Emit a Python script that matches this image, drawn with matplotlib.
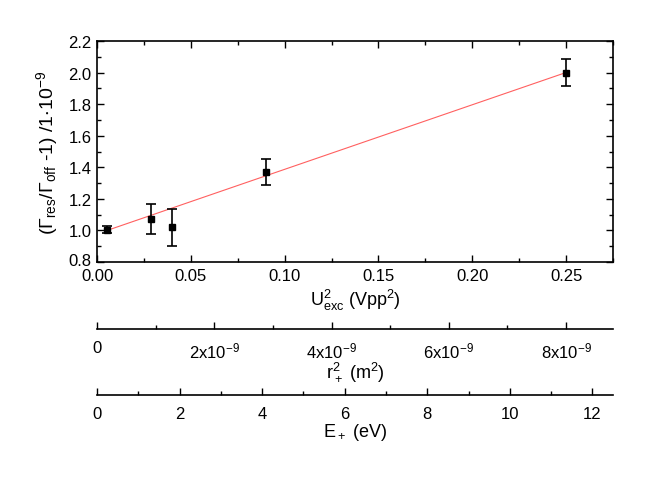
import numpy as np
import matplotlib
matplotlib.use("Agg")
import matplotlib.pyplot as plt
from matplotlib.ticker import MultipleLocator, FixedLocator
from matplotlib.transforms import ScaledTranslation

plt.rcParams["font.family"] = ["Liberation Sans", "DejaVu Sans"]
plt.rcParams["mathtext.fontset"] = "custom"
plt.rcParams["mathtext.rm"] = "Liberation Sans"
plt.rcParams["mathtext.it"] = "Liberation Sans"
plt.rcParams["mathtext.default"] = "regular"

# measured points
u2_exc = [0.0053, 0.0288, 0.040, 0.090, 0.250]
gamma_ratio = [1.005, 1.073, 1.02, 1.370, 2.0]
gamma_err = [0.023, 0.095, 0.116, 0.085, 0.085]

# linear fit
fit_intercept = 0.978
fit_slope = 4.09

# secondary scales
r2_ticks = [0, 2e-9, 4e-9, 6e-9, 8e-9]
r2_labels = ["0", "2x10$^{-9}$", "4x10$^{-9}$", "6x10$^{-9}$", "8x10$^{-9}$"]
r2_max = 8.8e-9
e_ticks = [0, 2, 4, 6, 8, 10, 12]
e_max = 12.5

fig = plt.figure(figsize=(6.64, 4.81), dpi=100)

left = 97 / 664
width = (613 - 97) / 664
ax = fig.add_axes([left, 1 - 263 / 481, width, (263 - 42) / 481])

fit_x = np.array([u2_exc[0], u2_exc[-1]])
ax.plot(fit_x, fit_intercept + fit_slope * fit_x, color="#ff6060", linewidth=0.8)

ax.errorbar(
    u2_exc, gamma_ratio, yerr=gamma_err,
    fmt="s", color="black", markersize=4.5,
    elinewidth=1.2, capsize=3.5, capthick=1.2
)

ax.set_xlim(0, 0.275)
ax.set_ylim(0.8, 2.2)
ax.xaxis.set_major_locator(MultipleLocator(0.05))
ax.xaxis.set_minor_locator(MultipleLocator(0.025))
ax.yaxis.set_major_locator(MultipleLocator(0.2))
ax.yaxis.set_minor_locator(MultipleLocator(0.1))
ax.xaxis.set_major_formatter(plt.FormatStrFormatter("%.2f"))
ax.yaxis.set_major_formatter(plt.FormatStrFormatter("%.1f"))
ax.tick_params(which="both", direction="in", top=True, right=True,
               labelsize=12, width=1)
ax.tick_params(axis="x", pad=4)
ax.tick_params(axis="y", pad=4)
ax.tick_params(which="major", length=5)
ax.tick_params(which="minor", length=3)
for s in ax.spines.values():
    s.set_linewidth(1.2)

ax.set_xlabel("U$^2_{exc}$ (Vpp$^2$)", fontsize=13, labelpad=3)
ax.set_ylabel(r"($\Gamma_{res}$/$\Gamma_{off}$ -1) /1$\cdot$10$^{-9}$",
              fontsize=14, labelpad=6)


def extra_axis(y_line, xmax, ticks, labels, minor, label):
    a = fig.add_axes([left, 1 - y_line / 481, width, 0])
    a.set_facecolor("none")
    for name in ["top", "left", "right"]:
        a.spines[name].set_visible(False)
    a.spines["bottom"].set_linewidth(1.2)
    a.set_yticks([])
    a.set_xlim(0, xmax)
    a.xaxis.set_major_locator(FixedLocator(ticks))
    a.xaxis.set_minor_locator(MultipleLocator(minor))
    a.set_xticklabels(labels)
    a.tick_params(which="both", direction="in", labelsize=12, pad=8, width=1)
    a.tick_params(which="major", length=5)
    a.tick_params(which="minor", length=3)
    a.set_xlabel(label, fontsize=13, labelpad=0)
    return a


extra_axis(330, r2_max, r2_ticks, r2_labels, 1e-9, "r$_+^2$ (m$^2$)")
extra_axis(396, e_max, e_ticks, [str(t) for t in e_ticks], 1, "E$_+$ (eV)")

# lift the "0.8" label a touch so it clears "0.00"
fig.canvas.draw()
for tick in ax.yaxis.get_major_ticks():
    if abs(tick.get_loc() - 0.8) < 1e-6:
        lab = tick.label1
        lab.set_transform(lab.get_transform()
                          + ScaledTranslation(0, 2.5 / 72, fig.dpi_scale_trans))

fig.savefig("out.png", dpi=100)
